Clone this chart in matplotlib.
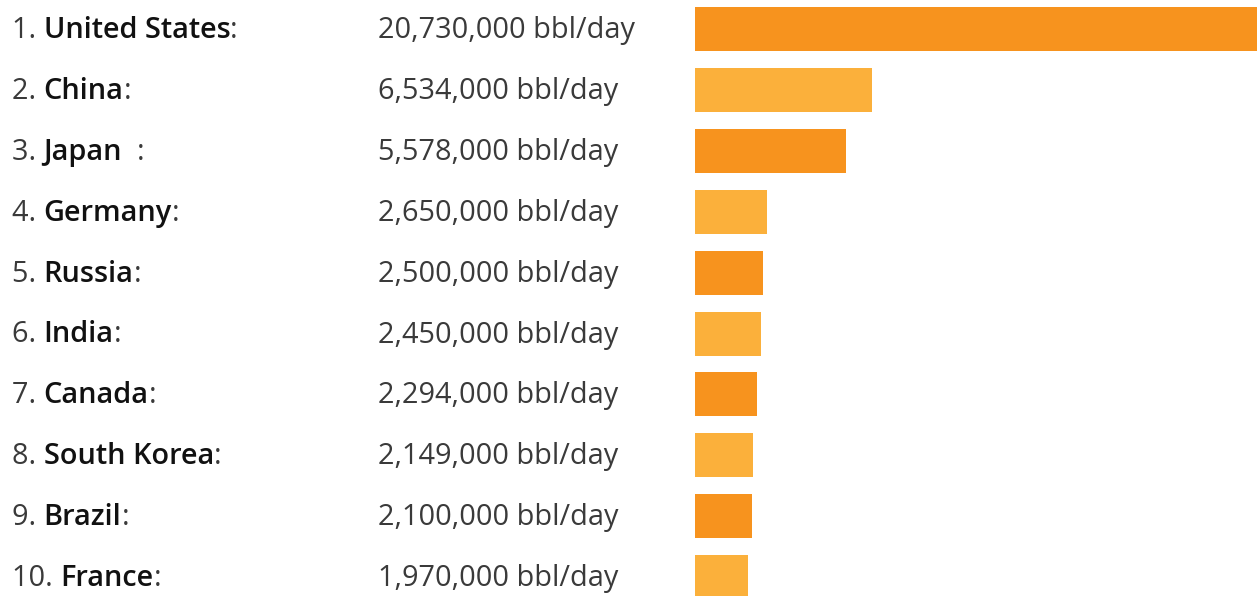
import matplotlib
matplotlib.use("Agg")
import matplotlib.pyplot as plt
from matplotlib.transforms import blended_transform_factory

countries = ["United States", "China", "Japan", "Germany", "Russia", "India",
             "Canada", "South Korea", "Brazil", "France"]
name_suffix = ["", "", "  ", "", "", "", "", "", "", ""]
values = [20730000, 6534000, 5578000, 2650000, 2500000, 2450000,
          2294000, 2149000, 2100000, 1970000]
value_labels = ["20,730,000 bbl/day", "6,534,000 bbl/day", "5,578,000 bbl/day",
                "2,650,000 bbl/day", "2,500,000 bbl/day", "2,450,000 bbl/day",
                "2,294,000 bbl/day", "2,149,000 bbl/day", "2,100,000 bbl/day",
                "1,970,000 bbl/day"]
dark = "#F7931E"
light = "#FBB03B"
colors = [dark if i % 2 == 0 else light for i in range(len(values))]

W, H = 1257, 596
fig = plt.figure(figsize=(W / 100, H / 100), dpi=100)
fig.patch.set_facecolor("white")

row0, step = 29.0, 60.9
ax = fig.add_axes([695 / W, 0, 562 / W, 1])
ax.set_xlim(0, values[0])
ax.set_ylim((H - row0) / step, -row0 / step)
ax.axis("off")

ypos = list(range(len(values)))
ax.barh(ypos, values, height=44 / step, color=colors, edgecolor="none")

FS = 20.8
FAM = "Open Sans"
tr = blended_transform_factory(fig.transFigure, ax.transData)
fig.canvas.draw()
renderer = fig.canvas.get_renderer()
dy = 1.5 / step

for i, (name, suf) in enumerate(zip(countries, name_suffix)):
    x = 12 / W
    parts = [(f"{i + 1}. ", "normal", "#3a3a3a"),
             (name, "semibold", "#111111"),
             (suf + ":", "normal", "#3a3a3a")]
    for txt, wt, c in parts:
        t = ax.text(x, i + dy, txt, transform=tr, fontsize=FS, family=FAM,
                    fontweight=wt, va="center", ha="left", color=c,
                    clip_on=False)
        bb = t.get_window_extent(renderer=renderer)
        x = bb.x1 / W
    ax.text(378 / W, i + dy, value_labels[i], transform=tr, fontsize=FS,
            family=FAM, fontweight="normal", va="center", ha="left",
            color="#3a3a3a", clip_on=False)

fig.savefig("out.png", dpi=100, facecolor="white")
